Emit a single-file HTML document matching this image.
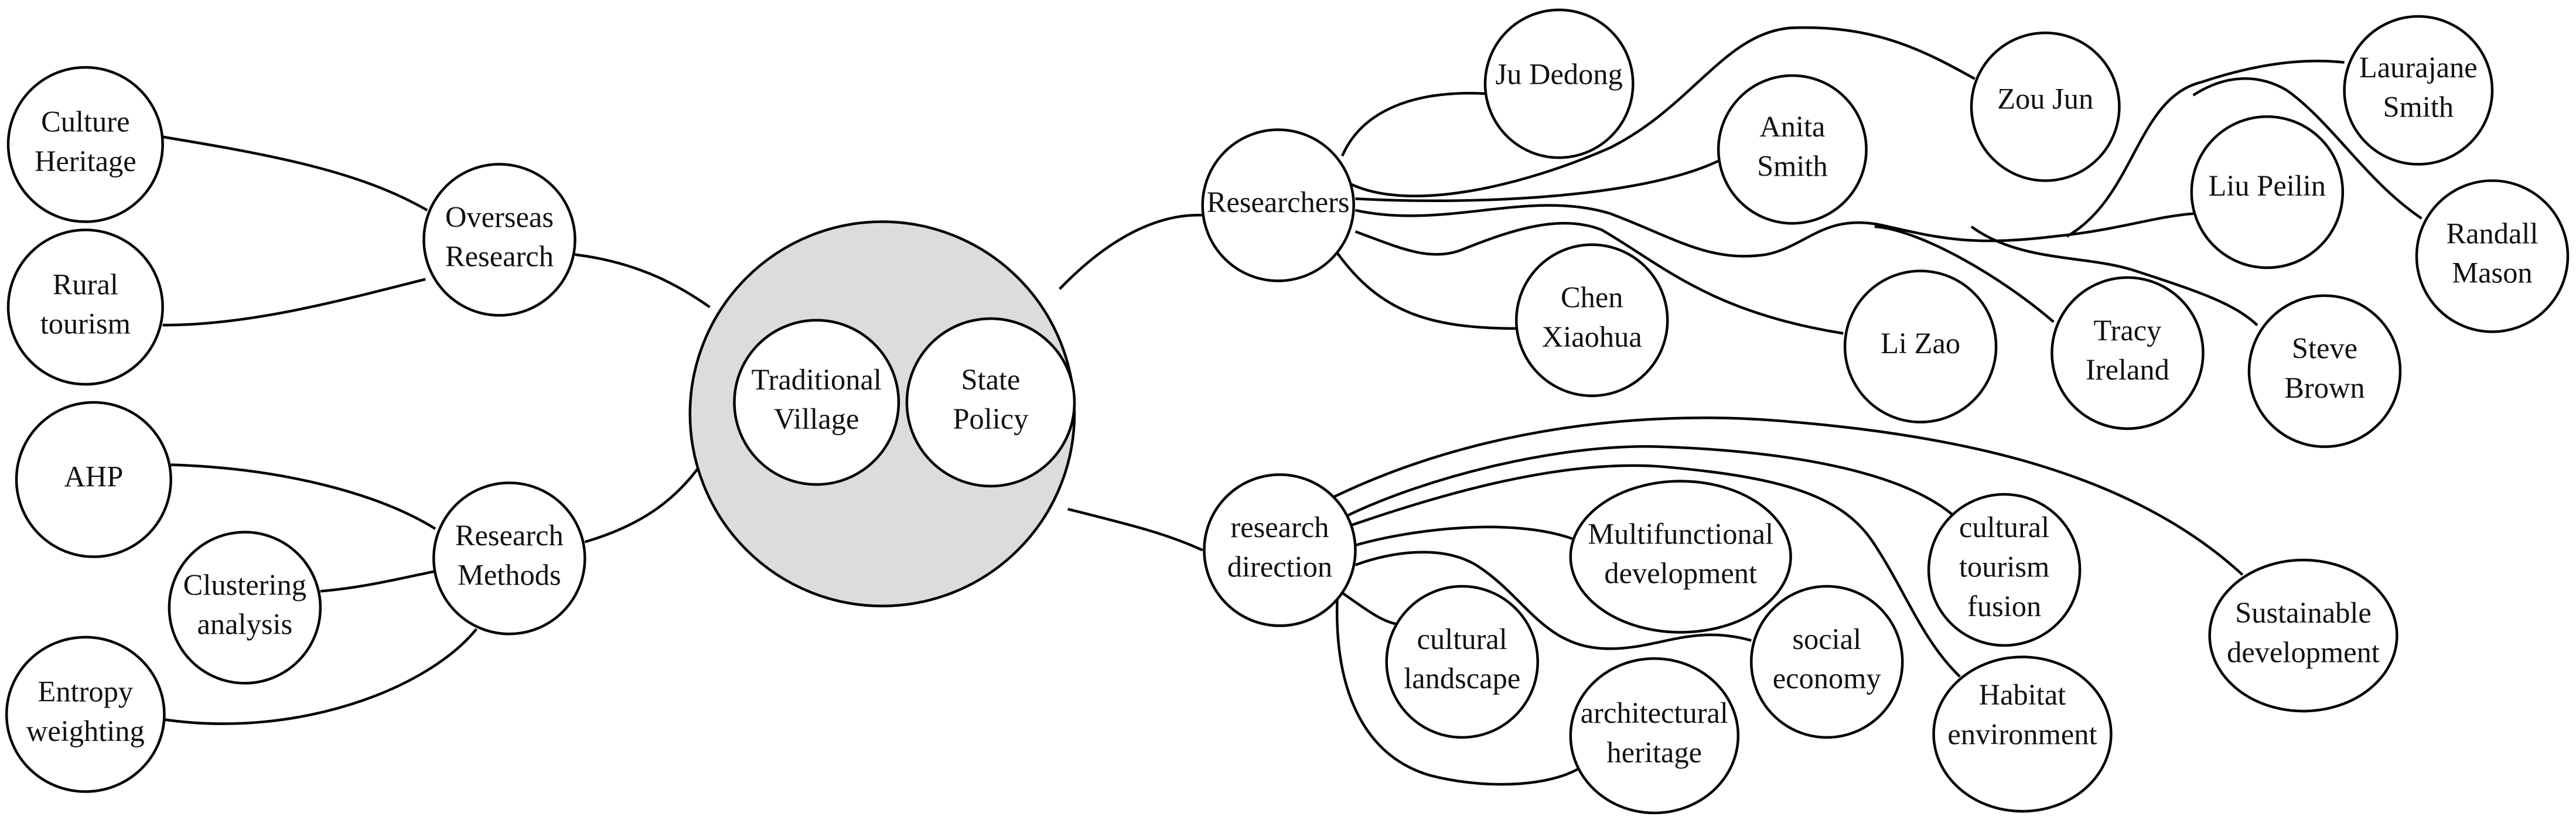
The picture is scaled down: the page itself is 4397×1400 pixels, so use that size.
<!DOCTYPE html>
<html><head><meta charset="utf-8"><style>
html,body{margin:0;padding:0;background:#fff;}
svg{display:block}
text{font-family:"Liberation Serif",serif;font-size:18px;fill:#111;text-anchor:middle;dominant-baseline:middle;}
</style></head><body>
<svg width="4397" height="1400" viewBox="0 0 1568 499.3" preserveAspectRatio="none" xmlns="http://www.w3.org/2000/svg">
<g fill="none" stroke="#000" stroke-width="1.6">
<!-- left -->
<path d="M97,83 C170,95 220,105 260,128"/>
<path d="M99,198 C150,198 200,185 259,170"/>
<path d="M350,155 C390,160 415,175 432,187"/>
<path d="M104,283 C170,285 230,300 265,322"/>
<path d="M195,360 C220,358 245,352 264,348"/>
<path d="M99,438 C180,450 260,420 290,383"/>
<path d="M356,330 C390,320 410,305 425,285"/>
<path d="M645,176 C670,150 700,130 732,131"/>
<path d="M650,310 C690,320 710,325 732,335"/>
<!-- researchers -->
<path d="M817,95 C830,65 865,55 904,57"/>
<path d="M822,112 C860,130 930,112 980,90 C1030,65 1050,20 1090,17 C1140,15 1170,30 1202,48"/>
<path d="M825,121 C900,125 1000,120 1046,98"/>
<path d="M825,128 C880,140 930,115 980,130 C1020,145 1040,160 1075,155 C1100,150 1110,130 1145,137 C1180,145 1200,150 1250,144 C1290,140 1310,132 1336,130"/>
<path d="M1258,144 C1300,120 1300,60 1340,50 C1370,40 1400,35 1427,38"/>
<path d="M1335,58 C1355,45 1375,45 1392,55 C1420,75 1440,110 1474,133"/>
<path d="M1141,138 C1170,140 1220,170 1250,196"/>
<path d="M1200,138 C1230,160 1270,155 1300,165 C1340,178 1360,185 1374,198"/>
<path d="M825,141 C850,150 870,160 890,152 C920,140 950,130 975,140 C1010,160 1040,190 1122,203"/>
<path d="M814,154 C840,190 870,200 923,200"/>
<!-- research direction -->
<path d="M811,303 C900,260 1000,250 1080,256 C1200,265 1300,290 1365,350"/>
<path d="M820,314 C870,290 950,270 1010,272 C1100,275 1160,290 1188,313"/>
<path d="M822,320 C880,300 950,280 1010,284 C1080,290 1120,300 1140,330 C1160,360 1170,390 1193,412"/>
<path d="M825,332 C860,322 920,315 957,328"/>
<path d="M825,344 C850,335 880,332 900,345 C930,365 940,395 980,395 C1010,395 1030,380 1066,390"/>
<path d="M817,361 C830,370 840,378 850,380"/>
<path d="M814,364 C812,420 830,460 870,472 C900,480 940,480 961,468"/>
</g>
<g stroke="#000" stroke-width="1.6" fill="#fff">
<circle cx="537" cy="252" r="117" fill="#dcdcdc"/>
<circle cx="497" cy="245" r="50"/>
<circle cx="603" cy="245" r="51"/>
<circle cx="52" cy="88" r="47"/>
<circle cx="304" cy="146" r="46"/>
<circle cx="52" cy="187" r="47"/>
<circle cx="57" cy="292" r="47"/>
<circle cx="310" cy="340" r="46"/>
<circle cx="149" cy="370" r="46"/>
<ellipse cx="52" cy="435" rx="48" ry="47"/>
<circle cx="778" cy="125" r="46"/>
<circle cx="949" cy="51" r="45"/>
<circle cx="1091" cy="91" r="45"/>
<circle cx="1245" cy="65" r="45"/>
<circle cx="1472" cy="55" r="45"/>
<circle cx="1380" cy="117" r="46"/>
<circle cx="1517" cy="156" r="46"/>
<circle cx="969" cy="195" r="46"/>
<circle cx="1169" cy="211" r="46"/>
<circle cx="1295" cy="215" r="46"/>
<circle cx="1415" cy="226" r="46"/>
<circle cx="779" cy="335" r="46"/>
<ellipse cx="1023" cy="339" rx="67" ry="46"/>
<circle cx="1220" cy="347" r="46"/>
<circle cx="890" cy="403" r="46"/>
<circle cx="1112" cy="403" r="46"/>
<ellipse cx="1007" cy="448" rx="51" ry="47"/>
<ellipse cx="1231" cy="447" rx="54" ry="47"/>
<ellipse cx="1402" cy="387" rx="57" ry="46"/>
</g>
<g>
<text x="497" y="233">Traditional</text><text x="497" y="257">Village</text>
<text x="603" y="233">State</text><text x="603" y="257">Policy</text>
<text x="52" y="76">Culture</text><text x="52" y="100">Heritage</text>
<text x="304" y="134">Overseas</text><text x="304" y="158">Research</text>
<text x="52" y="175">Rural</text><text x="52" y="199">tourism</text>
<text x="57" y="292">AHP</text>
<text x="310" y="328">Research</text><text x="310" y="352">Methods</text>
<text x="149" y="358">Clustering</text><text x="149" y="382">analysis</text>
<text x="52" y="423">Entropy</text><text x="52" y="447">weighting</text>
<text x="778" y="125">Researchers</text>
<text x="949" y="47">Ju Dedong</text>
<text x="1091" y="79">Anita</text><text x="1091" y="103">Smith</text>
<text x="1245" y="62">Zou Jun</text>
<text x="1472" y="43">Laurajane</text><text x="1472" y="67">Smith</text>
<text x="1380" y="115">Liu Peilin</text>
<text x="1517" y="144">Randall</text><text x="1517" y="168">Mason</text>
<text x="969" y="183">Chen</text><text x="969" y="207">Xiaohua</text>
<text x="1169" y="211">Li Zao</text>
<text x="1295" y="203">Tracy</text><text x="1295" y="227">Ireland</text>
<text x="1415" y="214">Steve</text><text x="1415" y="238">Brown</text>
<text x="779" y="323">research</text><text x="779" y="347">direction</text>
<text x="1023" y="327">Multifunctional</text><text x="1023" y="351">development</text>
<text x="1220" y="323">cultural</text><text x="1220" y="347">tourism</text><text x="1220" y="371">fusion</text>
<text x="890" y="391">cultural</text><text x="890" y="415">landscape</text>
<text x="1112" y="391">social</text><text x="1112" y="415">economy</text>
<text x="1007" y="436">architectural</text><text x="1007" y="460">heritage</text>
<text x="1231" y="425">Habitat</text><text x="1231" y="449">environment</text>
<text x="1402" y="375">Sustainable</text><text x="1402" y="399">development</text>
</g>
</svg>
</body></html>
